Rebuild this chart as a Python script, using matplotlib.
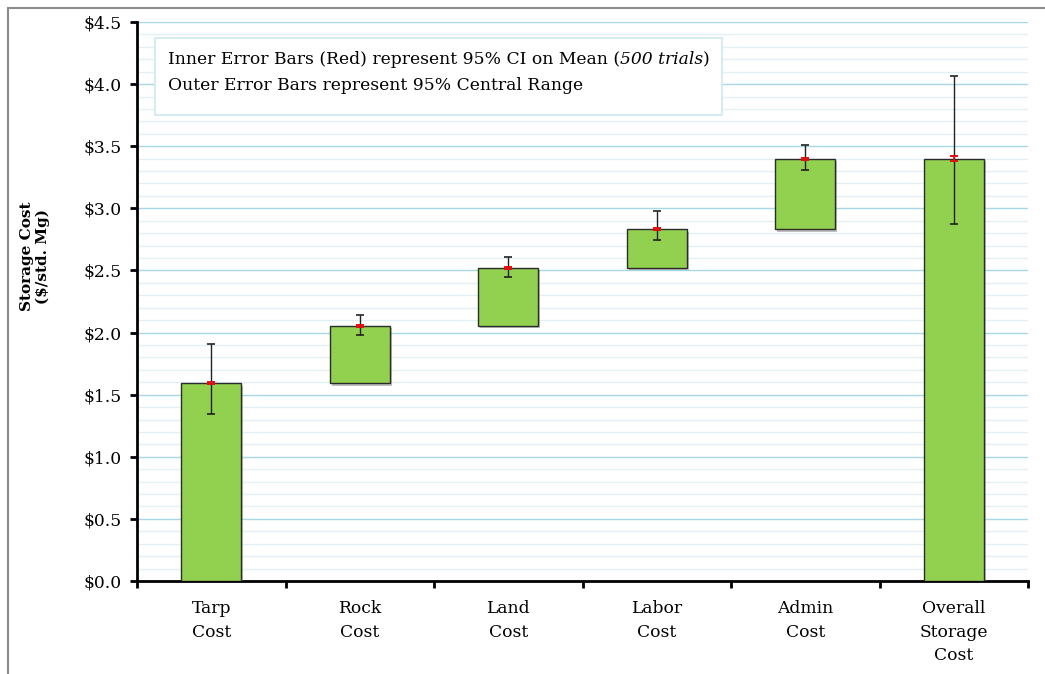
import numpy as np
import matplotlib
matplotlib.use("Agg")
import matplotlib.pyplot as plt
from matplotlib import patheffects as pe
from matplotlib.patches import Rectangle

# waterfall components ($/std. Mg)
categories = ["Tarp\nCost", "Rock\nCost", "Land\nCost", "Labor\nCost", "Admin\nCost", "Overall\nStorage\nCost"]
components = [1.59, 0.46, 0.47, 0.31, 0.57]
total = 3.40

# outer error bars: 95% central range
outer_low = [1.345, 1.978, 2.445, 2.745, 3.309, 2.872]
outer_high = [1.908, 2.144, 2.611, 2.979, 3.508, 4.066]
# inner error bars (red): 95% CI on mean
inner_low = [1.585, 2.046, 2.515, 2.823, 3.392, 3.380]
inner_high = [1.600, 2.060, 2.528, 2.838, 3.406, 3.422]

plt.rcParams["font.family"] = ["DejaVu Serif"]
fs = 12.3

tops = list(np.cumsum(components)) + [total]
bottoms = [0] + list(np.cumsum(components)[:-1]) + [0]
heights = [t - b for t, b in zip(tops, bottoms)]

W, H = 1045, 674
fig = plt.figure(figsize=(W / 100, H / 100), dpi=100)
ax = fig.add_axes([137 / W, (H - 581) / H, (1028 - 137) / W, (581 - 22) / H])

x = np.arange(len(categories))
bars = ax.bar(x, heights, bottom=bottoms, width=0.405, color="#92D050",
              edgecolor="#2b2b2b", linewidth=1.0, zorder=3)
for b in bars:
    b.set_path_effects([pe.SimplePatchShadow(offset=(1.5, -1.5), shadow_rgbFace="#808080", alpha=0.5),
                        pe.Normal()])

ax.errorbar(x, tops, yerr=[np.array(tops) - outer_low, np.array(outer_high) - tops],
            fmt="none", ecolor="#222222", elinewidth=1.0, capsize=3, capthick=1.2, zorder=4)
ax.errorbar(x, tops, yerr=[np.array(tops) - inner_low, np.array(inner_high) - tops],
            fmt="none", ecolor="#e01010", elinewidth=1.2, capsize=3, capthick=1.4, zorder=5)

ax.set_xlim(-0.5, len(categories) - 0.5)
ax.set_ylim(0, 4.5)

# gridlines
ax.set_yticks(np.arange(0, 4.51, 0.5))
ax.set_yticks(np.arange(0, 4.51, 0.1), minor=True)
ax.set_yticklabels([f"${v:.1f}" for v in np.arange(0, 4.51, 0.5)], fontsize=fs)
ax.grid(axis="y", which="major", color="#a8d8e5", linewidth=1.0, zorder=0)
ax.grid(axis="y", which="minor", color="#e1f0f5", linewidth=1.0, zorder=0)
ax.tick_params(axis="y", which="minor", length=0)
ax.tick_params(axis="y", which="major", length=5, width=2, direction="out", pad=6)

# x ticks at category boundaries, labels at centres
ax.set_xticks(np.arange(-0.5, len(categories)), [""] * (len(categories) + 1))
ax.set_xticks(x, categories, minor=True, fontsize=fs, linespacing=1.5)
ax.tick_params(axis="x", which="major", length=5, width=2, direction="out")
ax.tick_params(axis="x", which="minor", length=0, pad=14)

for s in ["top", "right"]:
    ax.spines[s].set_visible(False)
for s in ["left", "bottom"]:
    ax.spines[s].set_linewidth(2)
    ax.spines[s].set_color("black")
ax.set_axisbelow(True)

# note box
box = Rectangle((155 / W, (H - 115) / H), (722 - 155) / W, (115 - 38) / H,
                transform=fig.transFigure, facecolor="white", edgecolor="#d6ecf2",
                linewidth=1.5, zorder=1)
fig.patches.append(box)
t1 = fig.text(168 / W, (H - 60) / H, "Inner Error Bars (Red) represent 95% CI on Mean (",
              fontsize=fs, va="center", ha="left")
fig.canvas.draw()
renderer = fig.canvas.get_renderer()
bb = t1.get_window_extent(renderer=renderer)
t2 = fig.text(bb.x1 / W, (H - 60) / H, "500 trials", fontsize=fs, style="italic",
              va="center", ha="left")
bb2 = t2.get_window_extent(renderer=renderer)
fig.text(bb2.x1 / W, (H - 60) / H, ")", fontsize=fs, va="center", ha="left")
fig.text(168 / W, (H - 85) / H, "Outer Error Bars represent 95% Central Range",
         fontsize=fs, va="center", ha="left")

fig.text(35 / W, (H - 256) / H, "Storage Cost\n($/std. Mg)", rotation=90, fontsize=11,
         fontweight="bold", ha="center", va="center", linespacing=1.2)

# outer frame (only top and left edges fall inside the image)
frame = Rectangle((8 / W, -0.1), 1.2, (H - 8) / H + 0.1, transform=fig.transFigure,
                  facecolor="none", edgecolor="#8c8c8c", linewidth=1.5)
fig.patches.append(frame)

fig.savefig("out.png", dpi=100)
